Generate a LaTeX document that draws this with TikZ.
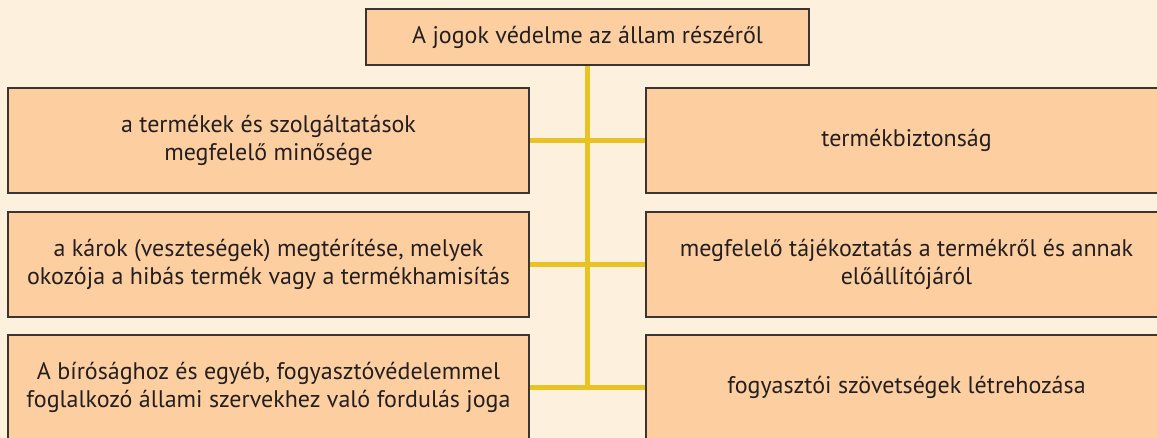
\documentclass[tikz,border=0pt]{standalone}
\usepackage{fontspec}
\setmainfont{PT Sans}
\usetikzlibrary{positioning}
\definecolor{hatter}{HTML}{FDF0DC}
\definecolor{doboz}{HTML}{FDCFA0}
\definecolor{keret}{HTML}{3A3432}
\definecolor{vonal}{HTML}{E8C323}
\definecolor{betu}{HTML}{231F20}
\tikzset{
    jogbox/.style={draw=keret, line width=1.5pt, fill=doboz, text=betu,
        minimum width=521pt, minimum height=105pt, align=center,
        font=\fontsize{24}{28}\selectfont, inner sep=0pt},
    fobox/.style={jogbox, minimum width=443pt, minimum height=56pt},
    kapcs/.style={vonal, line width=5pt}
}

\begin{document}
\begin{tikzpicture}[x=1pt,y=-1pt]
    \path[use as bounding box, fill=hatter] (0,0) rectangle (1157,438);
    \clip (0,0) rectangle (1157,438);

    \node[fobox] (cim) at (587.5,37) {A jogok védelme az állam részéről};

    % bal oszlop
    \node[jogbox] (bal1) at (268.5,140.5) {a termékek és szolgáltatások\\megfelelő minősége};
    \node[jogbox] (bal2) at (268.5,264.5) {a károk (veszteségek) megtérítése, melyek\\okozója a hibás termék vagy a termékhamisítás};
    \node[jogbox] (bal3) at (268.5,387.5) {A bírósághoz és egyéb, fogyasztóvédelemmel\\foglalkozó állami szervekhez való fordulás joga};

    % jobb oszlop
    \node[jogbox] (jobb1) at (906.5,140.5) {termékbiztonság};
    \node[jogbox] (jobb2) at (906.5,264.5) {megfelelő tájékoztatás a termékről és annak\\előállítójáról};
    \node[jogbox] (jobb3) at (906.5,387.5) {fogyasztói szövetségek létrehozása};

    % kapcsolok
    \coordinate (torzs) at (cim.south |- bal3.east);
    \draw[kapcs] (cim.south) -- (torzs);
    \draw[kapcs] (bal1.east) -- (jobb1.west);
    \draw[kapcs] (bal2.east) -- (jobb2.west);
    \draw[kapcs] (bal3.east) -- (jobb3.west);
\end{tikzpicture}
\end{document}
